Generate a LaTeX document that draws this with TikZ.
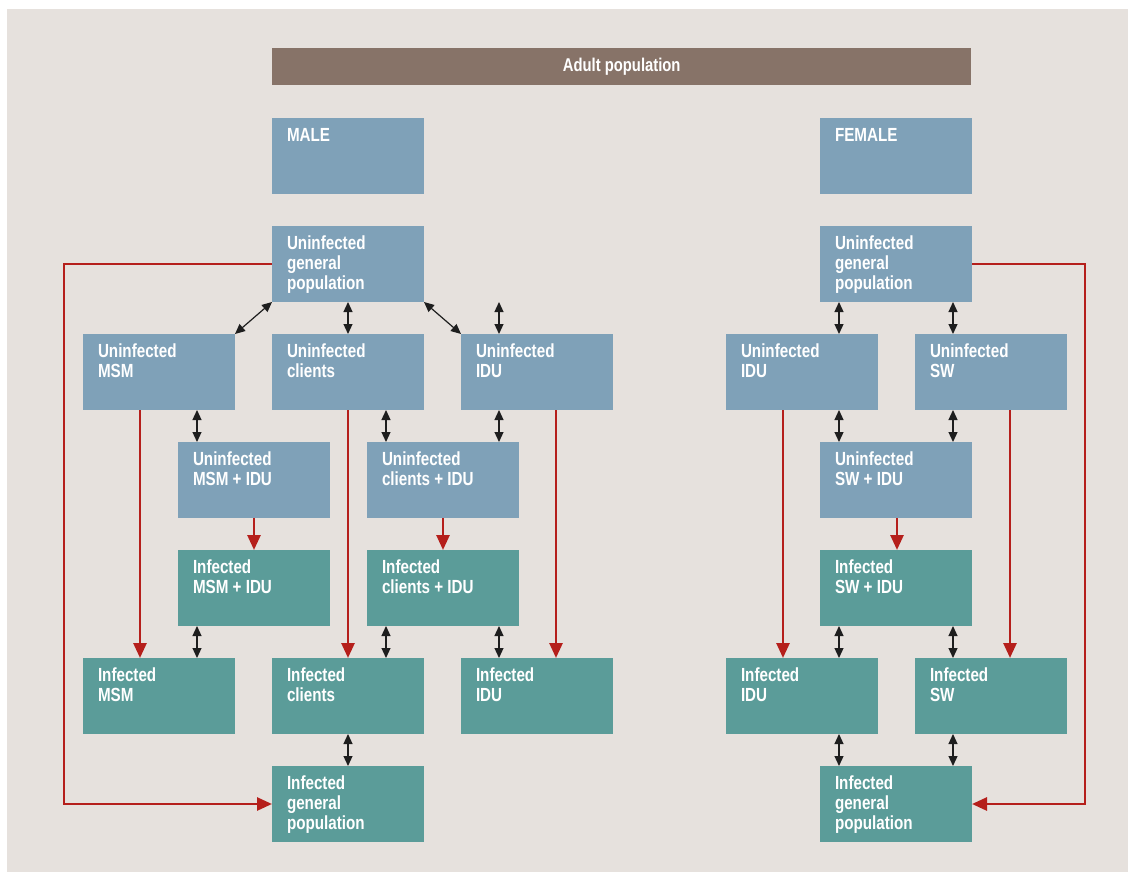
\documentclass[tikz,border=0pt]{standalone}
\usepackage{fontspec}
\newfontfamily\condfont{Liberation Sans}[FakeStretch=0.8]
\usetikzlibrary{arrows.meta,calc}
\definecolor{bgc}{HTML}{E6E1DD}
\definecolor{ublue}{HTML}{7FA1B8}
\definecolor{iteal}{HTML}{5B9C99}
\definecolor{brownbar}{HTML}{877368}
\definecolor{arrred}{HTML}{B51F1B}
\definecolor{blk}{HTML}{1E1E1E}
\tikzset{
  box/.style={minimum width=152pt, minimum height=76pt, inner sep=0pt, outer sep=0pt, anchor=north west},
  ubox/.style={box, fill=ublue},
  ibox/.style={box, fill=iteal},
  lbl/.style={anchor=north west, xshift=15pt, yshift=-10pt, inner sep=0pt, outer sep=0pt, align=left, text=white,
    font=\condfont\bfseries\fontsize{19}{20}\selectfont},
  dbl/.style={{Triangle[length=10pt,width=9pt]}-{Triangle[length=10pt,width=9pt]}, line width=1.2pt, draw=blk},
  infect/.style={-{Triangle[length=15pt,width=13pt]}, line width=2.7pt, draw=arrred},
}
\newcommand\mkbox[5]{\node[#4,label={[lbl]north west:{#5}}] (#1) at (#2,#3) {};}
\begin{document}
\begin{tikzpicture}[x=1pt,y=-1pt]
\useasboundingbox (0,0) rectangle (1128,872);
\fill[bgc] (7,9) rectangle (1128,872);
% title bar
\node[fill=brownbar, minimum width=699pt, minimum height=37pt, inner sep=0pt, anchor=north west,
  text=white, font=\condfont\bfseries\fontsize{18.5}{19}\selectfont] (adult) at (272,48) {Adult population};
% male side
\mkbox{male}{272}{118}{ubox}{MALE}
\mkbox{ugpm}{272}{226}{ubox}{Uninfected\\general\\population}
\mkbox{umsm}{83}{334}{ubox}{Uninfected\\MSM}
\mkbox{ucl}{272}{334}{ubox}{Uninfected\\clients}
\mkbox{uidum}{461}{334}{ubox}{Uninfected\\IDU}
\mkbox{umsmidu}{178}{442}{ubox}{Uninfected\\MSM + IDU}
\mkbox{uclidu}{367}{442}{ubox}{Uninfected\\clients + IDU}
\mkbox{imsmidu}{178}{550}{ibox}{Infected\\MSM + IDU}
\mkbox{iclidu}{367}{550}{ibox}{Infected\\clients + IDU}
\mkbox{imsm}{83}{658}{ibox}{Infected\\MSM}
\mkbox{icl}{272}{658}{ibox}{Infected\\clients}
\mkbox{iidum}{461}{658}{ibox}{Infected\\IDU}
\mkbox{igpm}{272}{766}{ibox}{Infected\\general\\population}
% female side
\mkbox{female}{820}{118}{ubox}{FEMALE}
\mkbox{ugpf}{820}{226}{ubox}{Uninfected\\general\\population}
\mkbox{uiduf}{726}{334}{ubox}{Uninfected\\IDU}
\mkbox{usw}{915}{334}{ubox}{Uninfected\\SW}
\mkbox{uswidu}{820}{442}{ubox}{Uninfected\\SW + IDU}
\mkbox{iswidu}{820}{550}{ibox}{Infected\\SW + IDU}
\mkbox{iiduf}{726}{658}{ibox}{Infected\\IDU}
\mkbox{isw}{915}{658}{ibox}{Infected\\SW}
\mkbox{igpf}{820}{766}{ibox}{Infected\\general\\population}
% x positions
\coordinate (xa) at (197,0);
\coordinate (xb) at (386,0);
\coordinate (xc) at (499,0);
\coordinate (xd) at (839,0);
\coordinate (xe) at (953,0);
\coordinate (xL) at (64,0);
\coordinate (xR) at (1085,0);
\coordinate (xm1) at (140,0);
\coordinate (xm2) at (254,0);
\coordinate (xm3) at (443,0);
\coordinate (xm4) at (556,0);
\coordinate (xf1) at (783,0);
\coordinate (xf2) at (897,0);
\coordinate (xf3) at (1010,0);
\coordinate (free) at (499,302);
% black double arrows, male
\draw[dbl] (ugpm.south) -- (ucl.north);
\draw[dbl] (ugpm.south west) -- (umsm.north east);
\draw[dbl] (ugpm.south east) -- (uidum.north west);
\draw[dbl] (free) -- (uidum.north -| free);
\draw[dbl] (umsm.south -| xa) -- (umsmidu.north -| xa);
\draw[dbl] (ucl.south -| xb) -- (uclidu.north -| xb);
\draw[dbl] (uidum.south -| xc) -- (uclidu.north -| xc);
\draw[dbl] (imsmidu.south -| xa) -- (imsm.north -| xa);
\draw[dbl] (iclidu.south -| xb) -- (icl.north -| xb);
\draw[dbl] (iclidu.south -| xc) -- (iidum.north -| xc);
\draw[dbl] (icl.south) -- (igpm.north);
% black double arrows, female
\draw[dbl] (ugpf.south -| xd) -- (uiduf.north -| xd);
\draw[dbl] (ugpf.south -| xe) -- (usw.north -| xe);
\draw[dbl] (uiduf.south -| xd) -- (uswidu.north -| xd);
\draw[dbl] (usw.south -| xe) -- (uswidu.north -| xe);
\draw[dbl] (iswidu.south -| xd) -- (iiduf.north -| xd);
\draw[dbl] (iswidu.south -| xe) -- (isw.north -| xe);
\draw[dbl] (iiduf.south -| xd) -- (igpf.north -| xd);
\draw[dbl] (isw.south -| xe) -- (igpf.north -| xe);
% red infection arrows, male
\draw[infect] (ugpm.west) -| (xL |- igpm.west) -- (igpm.west);
\draw[infect] (umsm.south -| xm1) -- (imsm.north -| xm1);
\draw[infect] (ucl.south) -- (icl.north);
\draw[infect] (uidum.south -| xm4) -- (iidum.north -| xm4);
\draw[infect] (umsmidu.south -| xm2) -- (imsmidu.north -| xm2);
\draw[infect] (uclidu.south -| xm3) -- (iclidu.north -| xm3);
% red infection arrows, female
\draw[infect] (ugpf.east) -| (xR |- igpf.east) -- (igpf.east);
\draw[infect] (uiduf.south -| xf1) -- (iiduf.north -| xf1);
\draw[infect] (usw.south -| xf3) -- (isw.north -| xf3);
\draw[infect] (uswidu.south -| xf2) -- (iswidu.north -| xf2);
\end{tikzpicture}
\end{document}
